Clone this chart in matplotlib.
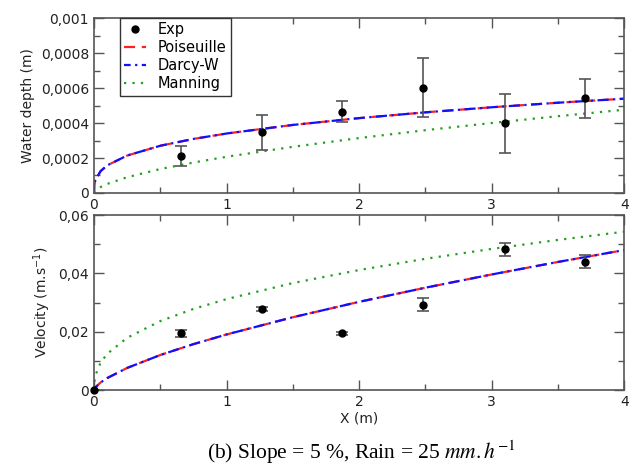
import matplotlib
matplotlib.use('Agg')
import matplotlib.pyplot as plt
from matplotlib.ticker import FuncFormatter, MultipleLocator

# experimental points
x_exp = [0.66, 1.268, 1.874, 2.483, 3.102, 3.708]
depth_exp = [0.000213, 0.000349, 0.000465, 0.000600, 0.000398, 0.000541]
depth_err_lo = [0.000059, 0.000103, 0.000061, 0.000167, 0.000169, 0.000111]
depth_err_hi = [0.000057, 0.000097, 0.000061, 0.000170, 0.000169, 0.000109]
x_vel_exp = [0.0, 0.66, 1.268, 1.874, 2.483, 3.102, 3.708]
vel_exp = [0.0, 0.0194, 0.0279, 0.0194, 0.0293, 0.0483, 0.0440]
vel_err = [0.0, 0.0012, 0.0007, 0.0005, 0.0021, 0.0022, 0.0022]

# model curves
x_model = [0, 0.001, 0.01, 0.05, 0.1, 0.25, 0.5, 0.75, 1, 1.5, 2, 2.5, 3, 3.5, 4]
depth_pois = [0, 0.000034, 0.000073, 0.000125, 0.000158, 0.000214, 0.000270, 0.000309,
              0.000340, 0.000389, 0.000428, 0.000461, 0.000490, 0.000516, 0.000539]
depth_darcy = depth_pois
depth_mann = [0, 0.000005, 0.000013, 0.000034, 0.000052, 0.000090, 0.000137, 0.000174,
              0.000207, 0.000264, 0.000314, 0.000359, 0.000400, 0.000439, 0.000476]
vel_pois = [0, 0.00019, 0.00088, 0.00259, 0.0041, 0.00757, 0.0120, 0.01573,
            0.01905, 0.02496, 0.03024, 0.03509, 0.03963, 0.04392, 0.0480]
vel_darcy = vel_pois
vel_mann = [0, 0.00197, 0.00495, 0.00941, 0.01242, 0.01791, 0.02364, 0.0278,
            0.03118, 0.03668, 0.04115, 0.0450, 0.0484, 0.05148, 0.0543]

plt.rcParams['font.family'] = 'DejaVu Sans'
plt.rcParams['font.size'] = 10
plt.rcParams['mathtext.fontset'] = 'dejavusans'

fig = plt.figure(figsize=(6.35, 4.69), dpi=100)
ax1 = fig.add_axes([0.148, 0.5885, 0.835, 0.373])
ax2 = fig.add_axes([0.148, 0.1684, 0.835, 0.373])

spine_col = '#555555'
err_col = '#555555'
pois_ls = (0, (5, 3))
darcy_ls = (2, (5, 2, 1, 2))
mann_ls = (0, (1, 2.8))


def comma_fmt(decimals):
    def f(v, pos):
        if abs(v) < 1e-12:
            return '0'
        return ('%.*f' % (decimals, v)).replace('.', ',')
    return FuncFormatter(f)


def style(ax):
    for s in ax.spines.values():
        s.set_color(spine_col)
        s.set_linewidth(1.2)
    ax.tick_params(which='both', direction='in', top=True, right=True,
                   color=spine_col, labelcolor='#222222')
    ax.tick_params(which='major', length=7, width=1)
    ax.tick_params(which='minor', length=4, width=1)
    ax.set_xlim(0, 4)
    ax.xaxis.set_major_locator(MultipleLocator(1))
    ax.xaxis.set_minor_locator(MultipleLocator(0.5))


# top panel: water depth
ax1.errorbar(x_exp, depth_exp, yerr=[depth_err_lo, depth_err_hi], fmt='none',
             ecolor=err_col, elinewidth=1.2, capsize=4, capthick=1.2, zorder=3)
ax1.plot(x_exp, depth_exp, 'o', color='black', markersize=5, label='Exp', zorder=4)
ax1.plot(x_model, depth_pois, color='#ff2020', ls=pois_ls, lw=1.6, label='Poiseuille')
ax1.plot(x_model, depth_darcy, color='#1010ff', ls=darcy_ls, lw=1.6, label='Darcy-W')
ax1.plot(x_model, depth_mann, color='#22a022', ls=mann_ls, lw=1.6, label='Manning')
style(ax1)
ax1.set_ylim(0, 0.001)
ax1.yaxis.set_minor_locator(MultipleLocator(0.0001))
ax1.set_yticks([0, 0.0002, 0.0004, 0.0006, 0.0008, 0.001])
ax1.set_yticklabels(['0', '0,0002', '0,0004', '0,0006', '0,0008', '0,001'])
ax1.set_ylabel('Water depth (m)', color='#222222')
leg = ax1.legend(loc='upper left', bbox_to_anchor=(0.049, 1.0), borderaxespad=0,
                 fancybox=False, framealpha=1, edgecolor='#333333',
                 handlelength=1.5, handletextpad=0.8, borderpad=0.3,
                 labelspacing=0.2, fontsize=10.5)
leg.get_frame().set_linewidth(1.0)

# bottom panel: velocity
ax2.errorbar(x_vel_exp, vel_exp, yerr=vel_err, fmt='none',
             ecolor=err_col, elinewidth=1.2, capsize=4, capthick=1.2, zorder=3)
ax2.plot(x_vel_exp, vel_exp, 'o', color='black', markersize=5, zorder=4, clip_on=False)
ax2.plot(x_model, vel_pois, color='#ff2020', ls=pois_ls, lw=1.6)
ax2.plot(x_model, vel_darcy, color='#1010ff', ls=darcy_ls, lw=1.6)
ax2.plot(x_model, vel_mann, color='#22a022', ls=mann_ls, lw=1.6)
style(ax2)
ax2.set_ylim(0, 0.06)
ax2.yaxis.set_major_locator(MultipleLocator(0.02))
ax2.yaxis.set_minor_locator(MultipleLocator(0.01))
ax2.yaxis.set_major_formatter(comma_fmt(2))
ax2.set_ylabel(r'Velocity (m.s$^{\mathregular{-1}}$)', color='#222222')
ax2.set_xlabel('X (m)', color='#222222', labelpad=2)

fig.text(0.569, 0.006, r'(b) Slope = 5 %, Rain = 25 $mm.h^{-1}$', ha='center',
         va='bottom', fontsize=15.5, family='Liberation Serif', math_fontfamily='stix')

fig.savefig('out.png', dpi=100)
